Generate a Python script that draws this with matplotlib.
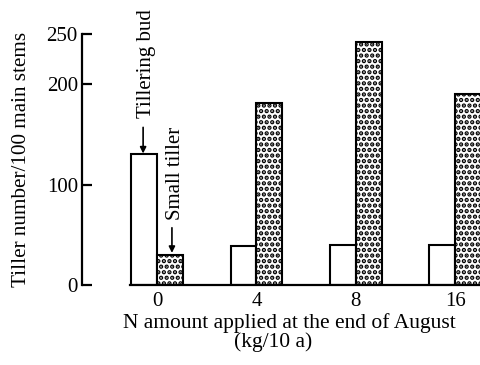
import matplotlib
matplotlib.use("Agg")
import matplotlib.pyplot as plt
import numpy as np

# N applied (kg/10 a) and tiller counts per 100 main stems
n_levels = ["0", "4", "8", "16"]
tillering_bud = [130, 39, 40, 40]
small_tiller = [30, 181, 242, 190]
y_ticks = [0, 100, 200, 250]

plt.rcParams["font.family"] = ["Liberation Serif", "DejaVu Serif"]
plt.rcParams["hatch.linewidth"] = 2.2

fig = plt.figure(figsize=(4.8, 3.65), dpi=100)
ax = fig.add_axes([82 / 480, 80 / 365, 1 - 82 / 480, 251 / 365])

x = np.arange(len(n_levels))
w = 0.26
ax.bar(x - w / 2, tillering_bud, w, facecolor="white", edgecolor="black", linewidth=1.5)
ax.bar(x + w / 2, small_tiller, w, facecolor="white", edgecolor="black",
       linewidth=1.5, hatch="...")

ax.set_xlim(-0.755, 3.25)
ax.set_ylim(0, 250)

for s in ["top", "right"]:
    ax.spines[s].set_visible(False)
ax.spines["left"].set_linewidth(1.6)
ax.spines["bottom"].set_linewidth(1.6)
ax.spines["bottom"].set_bounds(-0.27, 3.25)

ax.set_yticks(y_ticks)
ax.tick_params(axis="y", direction="in", length=7, width=1.6, labelsize=15, pad=3)
ax.set_xticks(x)
ax.set_xticklabels(n_levels)
ax.tick_params(axis="x", length=0, labelsize=15, pad=5)

ax.set_ylabel("Tiller number/100 main stems", fontsize=15.2, labelpad=11)
fig.text(289 / 480, 1 - 323 / 365, "N amount applied at the end of August",
         ha="center", va="center", fontsize=15.5)
fig.text(273 / 480, 1 - 342 / 365, "(kg/10 a)", ha="center", va="center", fontsize=15.5)

# labels with arrows
ax.text(-0.11, 166, "Tillering bud", rotation=90, ha="center", va="bottom",
        fontsize=15, clip_on=False)
ax.annotate("", xy=(-0.14, 131), xytext=(-0.14, 157),
            arrowprops=dict(arrowstyle="-|>", color="black", lw=1.2,
                            mutation_scale=9, shrinkA=0, shrinkB=0))
ax.text(0.19, 65, "Small tiller", rotation=90, ha="center", va="bottom",
        fontsize=15, clip_on=False)
ax.annotate("", xy=(0.15, 32), xytext=(0.15, 57),
            arrowprops=dict(arrowstyle="-|>", color="black", lw=1.2,
                            mutation_scale=9, shrinkA=0, shrinkB=0))

fig.savefig("out.png", dpi=100)
